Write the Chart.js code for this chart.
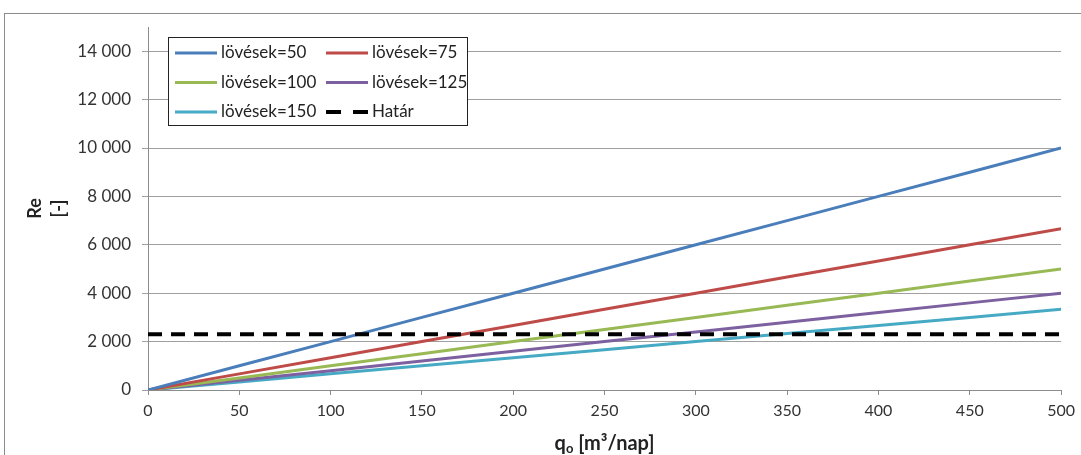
<!DOCTYPE html>
<html>
<head>
<meta charset="utf-8">
<script src="https://cdn.jsdelivr.net/npm/chart.js@4/dist/chart.umd.min.js"></script>
<style>
  html, body { margin: 0; padding: 0; background: #fff; }
  #wrap { width: 1081px; height: 455px; position: relative; }
</style>
</head>
<body>
<div id="wrap"><canvas id="re"></canvas></div>
<script>
// flow rate q [m3/nap]
const qValues = [0, 50, 100, 150, 200, 250, 300, 350, 400, 450, 500];

// Reynolds number for each number of shots
const re50 = [0, 1000, 2000, 3000, 4000, 5000, 6000, 7000, 8000, 9000, 10000];
const re75 = [0, 667, 1333, 2000, 2667, 3333, 4000, 4667, 5333, 6000, 6667];
const re100 = [0, 500, 1000, 1500, 2000, 2500, 3000, 3500, 4000, 4500, 5000];
const re125 = [0, 400, 800, 1200, 1600, 2000, 2400, 2800, 3200, 3600, 4000];
const re150 = [0, 333, 667, 1000, 1333, 1667, 2000, 2333, 2667, 3000, 3333];
const hatar = [2300, 2300, 2300, 2300, 2300, 2300, 2300, 2300, 2300, 2300, 2300];

const seriesLabels = ['lövések=50', 'lövések=75', 'lövések=100', 'lövések=125', 'lövések=150', 'Határ'];
const seriesColors = ['#4a7ebb', '#be4b48', '#98b954', '#7d60a0', '#46aac5', '#000000'];

const yTicks = [0, 2000, 4000, 6000, 8000, 10000, 12000, 14000];

const FONT = 'Lato, "Open Sans", sans-serif';

function pts(vals) {
  return vals.map((v, i) => ({ x: qValues[i], y: v }));
}

function fmtThousands(v) {
  return String(v).replace(/\B(?=(\d{3})+(?!\d))/g, ' ');
}

const allSeries = [re50, re75, re100, re125, re150, hatar];

const datasets = allSeries.map((vals, i) => {
  const isLimit = i === 5;
  return {
    label: seriesLabels[i],
    data: pts(vals),
    borderColor: seriesColors[i],
    backgroundColor: seriesColors[i],
    borderWidth: isLimit ? 4 : 3,
    borderDash: isLimit ? [14, 9] : [],
    pointRadius: 0,
    tension: 0,
    order: isLimit ? 0 : 1
  };
});

// grey frame around the whole figure
const framePlugin = {
  id: 'frame',
  beforeDraw(chart) {
    const c = chart.ctx;
    c.save();
    c.strokeStyle = '#8c8c8c';
    c.lineWidth = 1;
    c.strokeRect(4.5, 13.5, 1200, 600);
    c.restore();
  }
};

// axis titles: rotated "Re / [-]" and q with a subscript o
const axisTitles = {
  id: 'axisTitles',
  afterDraw(chart) {
    const c = chart.ctx;
    const area = chart.chartArea;
    const midY = (area.top + area.bottom) / 2;
    c.save();
    c.fillStyle = '#222';
    c.textBaseline = 'middle';
    c.textAlign = 'center';
    c.font = 'bold 18px ' + FONT;
    [['Re', 35], ['[-]', 59]].forEach(([txt, x]) => {
      c.save();
      c.translate(x, midY);
      c.rotate(-Math.PI / 2);
      c.fillText(txt, 0, 0);
      c.restore();
    });

    // x title pieces
    const big = 'bold 20px ' + FONT, small = 'bold 13px ' + FONT;
    const rest = ' [m³/nap]';
    c.font = big;
    const wq = c.measureText('q').width, wr = c.measureText(rest).width;
    c.font = small;
    const wo = c.measureText('o').width;
    let x = (area.left + area.right) / 2 - (wq + wo + wr) / 2;
    const y = 444;
    c.textAlign = 'left';
    c.textBaseline = 'alphabetic';
    c.font = big;
    c.fillText('q', x, y + 6);
    x += wq;
    c.font = small;
    c.fillText('o', x, y + 9);
    x += wo;
    c.font = big;
    c.fillText(rest, x, y + 6);
    c.restore();
  }
};

// two-column legend box in the upper left of the plot
const legendBox = {
  id: 'legendBox',
  afterDatasetsDraw(chart) {
    const c = chart.ctx;
    const bx = 168, by = 37, bw = 299, bh = 88;
    c.save();
    c.fillStyle = '#fff';
    c.fillRect(bx, by, bw, bh);
    c.strokeStyle = '#222';
    c.lineWidth = 1;
    c.strokeRect(bx + 0.5, by + 0.5, bw, bh);
    c.font = '17px ' + FONT;
    c.textBaseline = 'middle';
    c.fillStyle = '#222';
    chart.data.datasets.forEach((ds, i) => {
      const col = i % 2, row = Math.floor(i / 2);
      const x0 = col === 0 ? 175 : 326;
      const y = 53 + row * 29.5;
      c.strokeStyle = ds.borderColor;
      c.lineWidth = ds.borderWidth;
      c.setLineDash(ds.borderDash.length ? [15, 12] : []);
      c.beginPath();
      c.moveTo(x0, y);
      c.lineTo(x0 + 42, y);
      c.stroke();
      c.setLineDash([]);
      c.fillText(ds.label, x0 + 46, y);
    });
    c.restore();
  }
};

const chartRe = new Chart(document.getElementById('re'), {
  type: 'line',
  data: { datasets },
  options: {
    responsive: true,
    maintainAspectRatio: false,
    animation: false,
    layout: { padding: { top: 27, right: 18, bottom: 0, left: 0 } },
    plugins: {
      legend: { display: false },
      tooltip: { enabled: false }
    },
    scales: {
      x: {
        type: 'linear',
        min: 0,
        max: 500,
        ticks: {
          stepSize: 50,
          color: '#333',
          padding: 6,
          font: { family: FONT, size: 16 },
          maxRotation: 0
        },
        grid: { drawOnChartArea: false, tickLength: 5, color: '#8c8c8c' },
        border: { color: '#8c8c8c', width: 1 },
        afterFit(scale) { scale.height = 65; }
      },
      y: {
        min: 0,
        max: 15000,
        afterBuildTicks(scale) {
          scale.ticks = yTicks.map(v => ({ value: v }));
        },
        ticks: {
          color: '#333',
          padding: 11,
          font: { family: FONT, size: 17 },
          callback: v => fmtThousands(v)
        },
        grid: { color: '#a0a0a0', tickLength: 6 },
        border: { color: '#8c8c8c', width: 1 },
        afterFit(scale) { scale.width = 148; }
      }
    }
  },
  plugins: [framePlugin, legendBox, axisTitles]
});
</script>
</body>
</html>
